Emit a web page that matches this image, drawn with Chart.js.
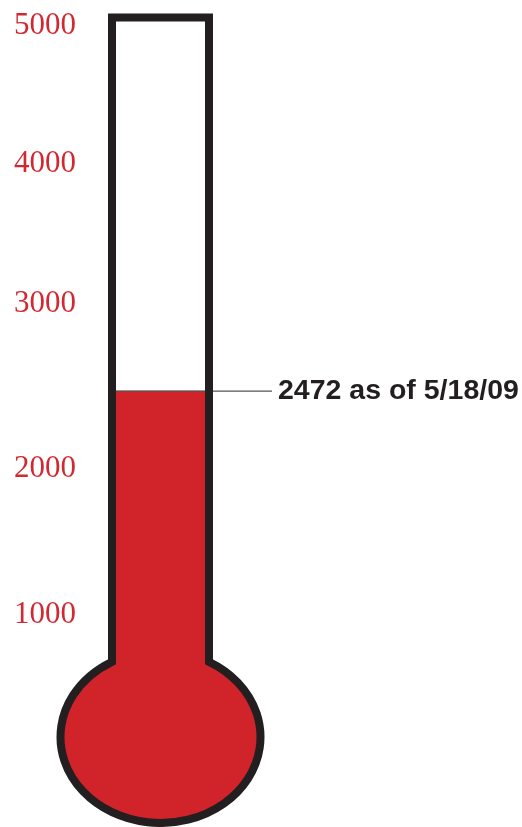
<!DOCTYPE html>
<html lang="en">
<head>
    <meta charset="UTF-8">
    <title>Thermometer</title>
    <script src="https://cdn.jsdelivr.net/npm/chart.js@4.4.0/dist/chart.umd.min.js"></script>
    <style>
        html, body { margin: 0; padding: 0; background: #fff; }
        #wrap { position: relative; width: 522px; height: 827px; }
    </style>
</head>
<body>
    <div id="wrap"><canvas id="thermo-chart"></canvas></div>

    <script>
        // Data
        const categories = ['Raised'];
        const raisedValues = [2472];
        const asOfDate = '5/18/09';
        const tickValues = [1000, 2000, 3000, 4000, 5000];

        // The original spaces its tick labels by hand, so the scale is piecewise:
        // value stops and where each one sits (0 = bottom of the axis, 1 = top)
        const scaleStops = [0, 1000, 2000, 3000, 4000, 5000];
        const stopDecimals = [0, 0.1981, 0.3962, 0.6208, 0.8114, 1];

        const RED = 'rgb(208, 35, 42)';
        const LABEL_RED = 'rgb(210, 40, 50)';
        const INK = '#231f20';
        const BORDER = 8;
        const BULB = { rx: 100, ry: 86, fromBottom: 90 };

        class ThermoScale extends Chart.LinearScale {
            static id = 'thermo';
            static defaults = Chart.LinearScale.defaults;

            getPixelForValue(value) {
                if (value === null || isNaN(value)) return NaN;
                let i = 1;
                while (i < scaleStops.length - 1 && value > scaleStops[i]) i++;
                const v0 = scaleStops[i - 1], v1 = scaleStops[i];
                const d0 = stopDecimals[i - 1], d1 = stopDecimals[i];
                const dec = d0 + (value - v0) / (v1 - v0) * (d1 - d0);
                return this.getPixelForDecimal(dec);
            }

            getValueForPixel(pixel) {
                const dec = this.getDecimalForPixel(pixel);
                let i = 1;
                while (i < stopDecimals.length - 1 && dec > stopDecimals[i]) i++;
                const d0 = stopDecimals[i - 1], d1 = stopDecimals[i];
                return scaleStops[i - 1] + (dec - d0) / (d1 - d0) * (scaleStops[i] - scaleStops[i - 1]);
            }
        }
        Chart.register(ThermoScale);

        // Draws the bulb and the glass outline around the bar, plus the callout
        const thermometer = {
            id: 'thermometer',
            beforeDatasetsDraw(chart) {
                const bar = chart.getDatasetMeta(0).data[0];
                const ctx = chart.ctx;
                ctx.save();
                ctx.fillStyle = RED;
                ctx.beginPath();
                ctx.ellipse(bar.x, chart.height - BULB.fromBottom, BULB.rx, BULB.ry, 0, 0, Math.PI * 2);
                ctx.fill();
                ctx.restore();
            },
            afterDatasetsDraw(chart) {
                const bar = chart.getDatasetMeta(0).data[0];
                const ctx = chart.ctx;
                const cx = bar.x;
                const cy = chart.height - BULB.fromBottom;
                const half = bar.width / 2 + BORDER / 2;
                const left = cx - half, right = cx + half;
                const top = chart.chartArea.top - BORDER;

                // callout line at the fill level
                const y = bar.y;
                const textX = right + BORDER / 2 + 65;
                ctx.save();
                ctx.strokeStyle = '#555';
                ctx.lineWidth = 1.2;
                ctx.beginPath();
                ctx.moveTo(bar.x - bar.width / 2, y);
                ctx.lineTo(textX - 6, y);
                ctx.stroke();

                // glass outline
                const t = Math.acos(half / BULB.rx);
                const joinY = cy - BULB.ry * Math.sin(t);
                ctx.strokeStyle = INK;
                ctx.lineWidth = BORDER;
                ctx.lineJoin = 'miter';
                ctx.beginPath();
                ctx.moveTo(left, joinY);
                ctx.lineTo(left, top);
                ctx.lineTo(right, top);
                ctx.lineTo(right, joinY);
                ctx.ellipse(cx, cy, BULB.rx, BULB.ry, 0, -t, Math.PI + t, false);
                ctx.closePath();
                ctx.stroke();

                // callout text
                ctx.fillStyle = INK;
                ctx.font = 'bold 28.5px "Liberation Sans", Arial, sans-serif';
                ctx.textAlign = 'left';
                ctx.textBaseline = 'alphabetic';
                ctx.fillText(`${raisedValues[0]} as of ${asOfDate}`, textX, y + 8);
                ctx.restore();
            }
        };

        new Chart(document.getElementById('thermo-chart'), {
            type: 'bar',
            data: {
                labels: categories,
                datasets: [{
                    data: raisedValues,
                    backgroundColor: RED,
                    borderWidth: 0,
                    barPercentage: 1,
                    categoryPercentage: 1
                }]
            },
            options: {
                responsive: true,
                maintainAspectRatio: false,
                animation: false,
                layout: {
                    padding: { top: 25.5, bottom: 67, left: 0, right: 317 }
                },
                plugins: {
                    legend: { display: false },
                    tooltip: { enabled: false }
                },
                scales: {
                    x: { display: false },
                    y: {
                        type: 'thermo',
                        min: 0,
                        max: 5000,
                        afterBuildTicks: (scale) => {
                            scale.ticks = tickValues.map(v => ({ value: v }));
                        },
                        afterFit: (scale) => {
                            scale.width = 116;
                            scale.paddingTop = 0;
                            scale.paddingBottom = 0;
                        },
                        grid: { display: false, drawTicks: false },
                        border: { display: false },
                        ticks: {
                            autoSkip: false,
                            padding: 40,
                            color: LABEL_RED,
                            font: { family: '"Liberation Serif", "Times New Roman", serif', size: 31 },
                            callback: (v) => String(v)
                        }
                    }
                }
            },
            plugins: [thermometer]
        });
    </script>
</body>
</html>
